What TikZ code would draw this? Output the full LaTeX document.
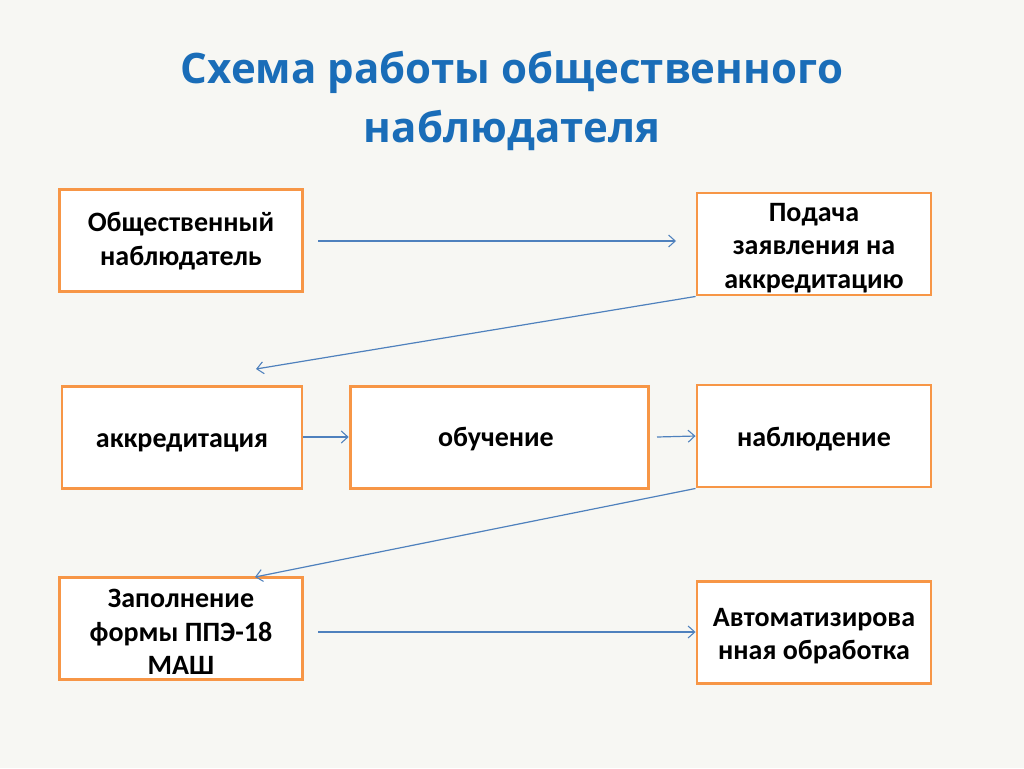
\documentclass[tikz,border=0pt]{standalone}
\usepackage{fontspec}
\setmainfont{Carlito}
\newfontfamily\titlefont{Open Sans}
\usetikzlibrary{arrows.meta}
\definecolor{bgc}{HTML}{F7F7F3}
\definecolor{boxc}{HTML}{F79646}
\definecolor{arrc}{HTML}{4F81BD}
\definecolor{titc}{HTML}{1A6DB8}
\tikzset{
  stepbox/.style={draw=boxc, line width=2.2pt, fill=white, inner sep=0pt},
  boxtext/.style={align=center, font=\fontsize{21}{25}\selectfont\bfseries, inner sep=0pt},
  conn/.style={draw=arrc, line width=0.9pt, -{Straight Barb[length=5pt,width=9pt,line width=0.8pt]}}
}
\begin{document}
\begin{tikzpicture}[x=0.75pt,y=-0.75pt]
\fill[bgc] (0,0) rectangle (1024,768);
\useasboundingbox (0,0) rectangle (1024,768);
\node[font=\titlefont\bfseries\fontsize{31.5}{44}\selectfont, text=titc, align=center] (title) at (512,101) {Схема работы общественного\\наблюдателя};
% boxes
\node[stepbox, minimum width=182pt, minimum height=77pt] (b1) at (181,240.5) {};
\node[stepbox, minimum width=175.5pt, minimum height=76.5pt] (b2) at (814,244) {};
\node[stepbox, minimum width=180pt, minimum height=77pt] (b3) at (182,437.5) {};
\node[stepbox, minimum width=224pt, minimum height=77pt] (b4) at (499.5,437.5) {};
\node[stepbox, minimum width=175.5pt, minimum height=76.5pt] (b5) at (814,436) {};
\node[stepbox, minimum width=182pt, minimum height=77pt] (b6) at (181,628.5) {};
\node[stepbox, minimum width=175.5pt, minimum height=77pt] (b7) at (814,632.5) {};
% texts
\node[boxtext] (t1) at (181,241) {Общественный\\наблюдатель};
\node[boxtext] (t2) at (814,248) {Подача\\заявления на\\аккредитацию};
\node[boxtext] (t3) at (182,443) {аккредитация};
\node[boxtext] (t4) at (496,439) {обучение};
\node[boxtext] (t5) at (814,439) {наблюдение};
\node[boxtext] (t6) at (181,632) {Заполнение\\формы ППЭ-18\\МАШ};
\node[boxtext] (t7) at (814,636) {Автоматизирова\\нная обработка};
% connector ends
\coordinate (a1s) at (318,241);
\coordinate (a1e) at (676,241);
\coordinate (a2e) at (256,369);
\coordinate (a4s) at (657,437);
\coordinate (a5e) at (255,577);
\coordinate (a6s) at (318,632);
\draw[conn] (a1s) -- (a1e);
\draw[conn] (b2.south west) -- (a2e);
\draw[conn] (b3.east |- 0,437) -- (b4.west |- 0,437);
\draw[conn] (a4s) -- (b5.west |- 0,436);
\draw[conn] (b5.south west) -- (a5e);
\draw[conn] (a6s) -- (b7.west |- 0,632);
\end{tikzpicture}
\end{document}
